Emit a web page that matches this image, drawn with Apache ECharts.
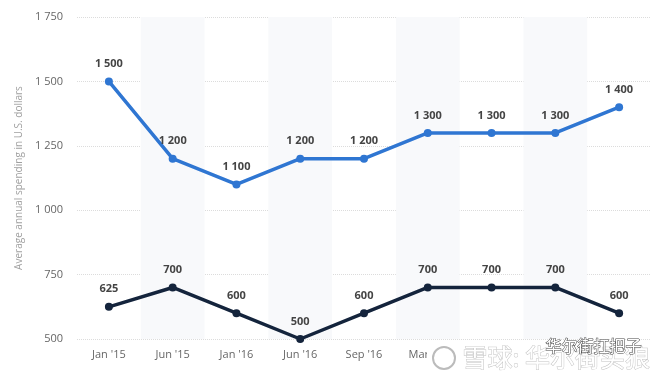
<!DOCTYPE html>
<html>
<head>
<meta charset="utf-8">
<script src="https://cdn.jsdelivr.net/npm/echarts@6/dist/echarts.min.js"></script>
<style>
  html, body { margin: 0; padding: 0; background: #fff; }
  #chart { width: 660px; height: 377px; }
</style>
</head>
<body>
<div id="chart"></div>
<script>
// categories and values
const categories = ["Jan '15", "Jun '15", "Jan '16", "Jun '16", "Sep '16", "Mar '17", "Jun '17", "Sep '17", "Jan '18"];
const seriesTop = [1500, 1200, 1100, 1200, 1200, 1300, 1300, 1300, 1400];
const seriesBottom = [625, 700, 600, 500, 600, 700, 700, 700, 600];
const yTicks = [500, 750, 1000, 1250, 1500, 1750];

// "1 500" style
function fmt(v) {
  return String(v).replace(/\B(?=(\d{3})+(?!\d))/g, " ");
}

let chart = echarts.init(document.getElementById("chart"));
let font = "'Open Sans', 'Noto Sans', sans-serif";

let labelStyle = {
  show: true,
  position: "top",
  distance: 8,
  color: "#444",
  fontSize: 11,
  fontWeight: "bold",
  fontFamily: font,
  formatter: (p) => fmt(p.value),
};

let option = {
  animation: false,
  grid: { left: 77, right: 9, top: 17, bottom: 38 },
  xAxis: {
    type: "category",
    data: categories,
    boundaryGap: true,
    axisLine: { show: false },
    axisTick: { show: false },
    axisLabel: { color: "#666", fontSize: 11, fontFamily: font, margin: 10 },
    splitArea: {
      show: true,
      areaStyle: { color: ["rgba(255,255,255,0)", "#f8f9fb"] },
    },
  },
  yAxis: {
    type: "value",
    min: yTicks[0],
    max: yTicks[yTicks.length - 1],
    interval: 250,
    name: "Average annual spending in U.S. dollars",
    nameLocation: "middle",
    nameGap: 46,
    nameTextStyle: { color: "#a0a0a0", fontSize: 10, fontFamily: font },
    axisLine: { show: false },
    axisTick: { show: false },
    axisLabel: {
      color: "#666",
      fontSize: 11,
      fontFamily: font,
      margin: 14,
      formatter: fmt,
    },
    splitLine: {
      lineStyle: { color: "#dcdcdc", type: "dotted", width: 1 },
    },
  },
  series: [
    {
      type: "line",
      data: seriesTop,
      symbol: "circle",
      symbolSize: 8,
      lineStyle: { color: "#2f76d2", width: 3.5 },
      itemStyle: { color: "#2f76d2" },
      label: labelStyle,
    },
    {
      type: "line",
      data: seriesBottom,
      symbol: "circle",
      symbolSize: 8,
      lineStyle: { color: "#14243c", width: 3.5 },
      itemStyle: { color: "#14243c" },
      label: labelStyle,
    },
  ],
  // watermark at the lower right
  graphic: [
    {
      type: "rect",
      left: 427,
      top: 344,
      shape: { width: 233, height: 33 },
      style: { fill: "#fff" },
      z: 100,
    },
    {
      type: "circle",
      shape: { cx: 444, cy: 358, r: 11 },
      style: { fill: "none", stroke: "#bbb", lineWidth: 2 },
      z: 101,
    },
    {
      type: "text",
      left: 462,
      top: 344,
      style: {
        text: "雪球: 华尔街买狼",
        fontSize: 25,
        fontFamily: "'Noto Sans CJK SC'",
        fill: "#fff",
        stroke: "#c4c4c4",
        lineWidth: 1,
      },
      z: 101,
    },
    {
      type: "text",
      left: 545,
      top: 337,
      style: {
        text: "华尔街扛把子",
        fontSize: 16,
        fontFamily: "'Noto Sans CJK SC'",
        fill: "#fff",
        stroke: "#444",
        lineWidth: 1,
      },
      z: 102,
    },
  ],
};
chart.setOption(option);
</script>
</body>
</html>
